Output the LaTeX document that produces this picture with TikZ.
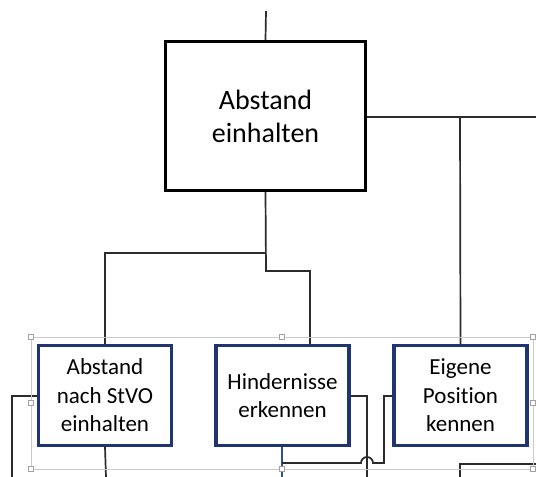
\documentclass[tikz,border=0pt]{standalone}
\usepackage{fontspec}
\setmainfont{Carlito}[Ligatures=NoCommon]
\usetikzlibrary{calc}
\definecolor{navy}{HTML}{1F3470}
\definecolor{wire}{HTML}{2B2B2B}
\definecolor{selblue}{HTML}{2F4F9A}
\definecolor{framegray}{HTML}{CACACA}
\tikzset{
  topbox/.style={draw=black, line width=3.2pt, fill=white, minimum width=200pt,
    minimum height=149pt, align=center, inner sep=0pt,
    font=\fontsize{28}{33}\selectfont},
  subbox/.style={draw=navy, line width=3.2pt, fill=white, minimum width=133pt,
    minimum height=100pt, align=center, inner sep=0pt,
    font=\fontsize{23}{28.5}\selectfont},
  wire/.style={draw=wire, line width=1.7pt},
  selframe/.style={draw=framegray, line width=1pt},
  handle/.style={draw=framegray!80!black, fill=white, line width=0.6pt,
    minimum size=5pt, inner sep=0pt}
}
\begin{document}
\begin{tikzpicture}[x=1pt, y=-1pt]
  \useasboundingbox[fill=white] (0,0) rectangle (536,477);

  % boxes
  \node[topbox] (main) at (265.5,116) {Abstand\\einhalten};
  \node[subbox] (b1) at (105,395.5) {Abstand\\nach StVO\\einhalten};
  \node[subbox] (b2) at (282.5,395.5) {Hindernisse\\erkennen};
  \node[subbox] (b3) at (460.5,395.5) {Eigene\\Position\\kennen};

  % connector ends and bends
  \coordinate (up) at (266,11);
  \coordinate (ja) at (266,253);
  \coordinate (jb) at (266,271);
  \coordinate (jc) at (310,271);
  \coordinate (jr) at (460,117);
  \coordinate (er) at (536,117);
  \coordinate (d1) at (106,477);
  \coordinate (l1) at (12,396);
  \coordinate (l1d) at (12,477);
  \coordinate (r2) at (367,396);
  \coordinate (r2d) at (367,477);
  \coordinate (d2) at (282,477);
  \coordinate (h0) at (282,463);
  \coordinate (h1) at (361,463);
  \coordinate (h3) at (384,463);
  \coordinate (h4) at (384,396);
  \coordinate (q0) at (460,464);
  \coordinate (q1) at (536,464);
  \coordinate (q2) at (460,477);

  % connectors
  \draw[wire] (up) -- (main.north);
  \draw[wire] (main.south) -- (jb) -- (jc) -- (jc |- b2.north);
  \draw[wire] (ja) -- (ja -| b1.north) -- (b1.north);
  \draw[wire] (main.east |- er) -- (er);
  \draw[wire] (jr) -- (b3.north);
  \draw[wire] (b1.south) -- (d1);
  \draw[wire] (b1.west |- l1) -- (l1) -- (l1d);
  \draw[wire] (b2.east |- r2) -- (r2) -- (r2d);
  \draw[draw=selblue, line width=1.7pt] (b2.south -| h0) -- (d2);
  \draw[wire] (h0) -- (h1) arc[start angle=180, end angle=0, radius=6pt]
    -- (h3) -- (h4) -- (b3.west |- h4);
  \draw[wire] (q1) -- (q0) -- (q2);

  % selection frame with handles
  \draw[selframe] (31,337) rectangle (533,469);
  \foreach \hx/\hy [count=\k] in {31/337, 282/337, 533/337, 31/403, 533/403,
      31/469, 282/469, 533/469}
    \node[handle] (hd\k) at (\hx,\hy) {};
\end{tikzpicture}
\end{document}
